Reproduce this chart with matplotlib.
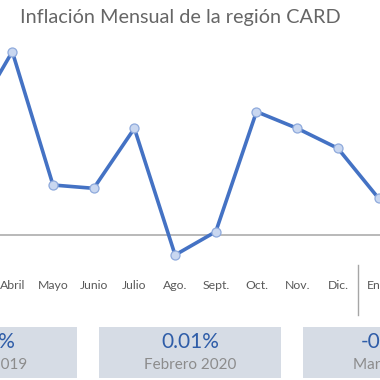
import matplotlib
matplotlib.use("Agg")
import matplotlib.pyplot as plt
from matplotlib.patches import Rectangle
from matplotlib.transforms import blended_transform_factory

plt.rcParams["font.family"] = ["Lato", "DejaVu Sans"]

# monthly inflation (%), March 2019 .. March 2020
months = ["Marzo", "Abril", "Mayo", "Junio", "Julio", "Ago.", "Sept.",
          "Oct.", "Nov.", "Dic.", "Ene.", "Feb.", "Marzo"]
inflation = [0.34, 0.55, 0.15, 0.14, 0.32, -0.06, 0.01,
             0.37, 0.32, 0.26, 0.11, 0.01, -0.10]

box_values = ["0.34%", "0.01%", "-0.10%"]
box_labels = ["Marzo 2019", "Febrero 2020", "Marzo 2020"]

W = H = 380
fig = plt.figure(figsize=(3.8, 3.8), dpi=100)
fig.patch.set_facecolor("white")

# chart axes: pixel rows 35..265 from top, full width
ax = fig.add_axes([0, 1 - 265 / H, 1, 230 / H])
x = list(range(len(months)))
ax.plot(x, inflation, color="#4472C4", lw=2.6, zorder=3,
        marker="o", ms=6.5, mfc="#C9D7F0", mec="#8FAADC", mew=0.9)
ax.axhline(0, color="#A6A6A6", lw=1.1, zorder=1)
ax.set_xticks(x)
ax.set_xticklabels(months, fontsize=8.8, color="#595959")
ax.tick_params(axis="x", length=0, pad=11)
ax.set_yticks([])
for s in ax.spines.values():
    s.set_visible(False)
ax.patch.set_alpha(0)

# year separator between Dic. and Ene.
tr = blended_transform_factory(ax.transData, fig.transFigure)
ax.plot([9.5, 9.5], [1 - 265 / H, 1 - 315 / H], color="#A6A6A6",
        lw=1.0, transform=tr, clip_on=False)

# the view only shows part of the series
ax.set_xlim(0.698, 0.698 + W / 40.7)
ax.set_ylim(-0.09, 0.60)

fig.text(180 / W, 1 - 17 / H, "Inflación Mensual de la región CARD",
         ha="center", va="center", fontsize=14.3, color="#666666")

# summary boxes
box_w, gap = 182, 22
for i, (val, lab) in enumerate(zip(box_values, box_labels)):
    left = -105 + i * (box_w + gap)
    fig.patches.append(Rectangle((left / W, 1 - 378 / H), box_w / W, 51 / H,
                                 transform=fig.transFigure, facecolor="#D6DCE5",
                                 edgecolor="none"))
    cx = (left + box_w / 2) / W
    fig.text(cx, 1 - 342 / H, val, ha="center", va="center",
             fontsize=15, color="#2F5DA8")
    fig.text(cx, 1 - 365 / H, lab, ha="center", va="center",
             fontsize=11, color="#8C8C8C")

fig.savefig("out.png", dpi=100)
